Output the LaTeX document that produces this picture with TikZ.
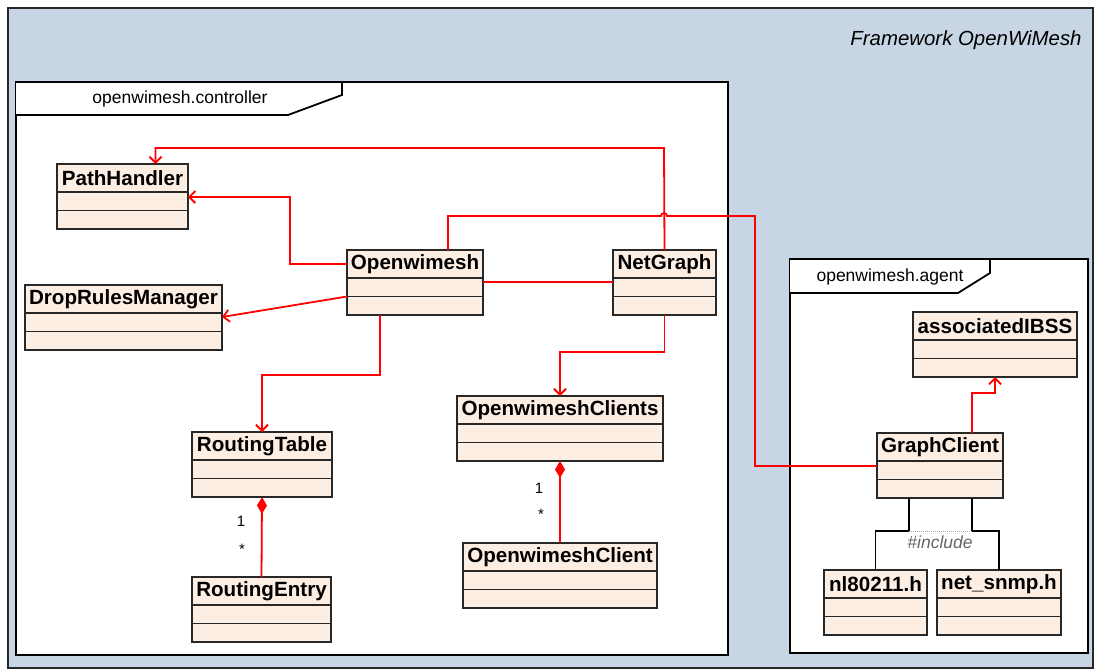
\documentclass[tikz,border=0pt]{standalone}
\usepackage{fontspec}
\setmainfont{Liberation Sans}
\usetikzlibrary{positioning,arrows.meta}
\definecolor{bgblue}{RGB}{200,213,229}
\definecolor{classfill}{RGB}{253,238,227}
\definecolor{edge}{RGB}{40,40,40}

\begin{document}
\begin{tikzpicture}[x=1pt,y=-1pt,
  pkg/.style={draw=black,line width=1.8,fill=white},
  pkglabel/.style={font=\fontsize{17.5}{21}\selectfont},
  classhead/.style={draw=edge,fill=classfill,line width=1.4,outer sep=0,inner sep=0,
    anchor=north west,minimum height=28,font=\bfseries\fontsize{20.6}{24}\selectfont},
  classbody/.style={draw=edge,fill=classfill,line width=1.4,outer sep=0,inner sep=0,
    minimum height=37,below=0pt of #1,
    path picture={\draw[edge,line width=1.4] (path picture bounding box.west) -- (path picture bounding box.east);}},
  assoc/.style={draw=red,line width=1.8},
  navig/.style={assoc,-{Straight Barb[length=6pt,width=12pt]}},
  compo/.style={assoc,{Diamond[length=17pt,width=10pt]}-},
  mult/.style={font=\fontsize{15}{18}\selectfont},
  incl/.style={draw=black,line width=1.8}]
\useasboundingbox (0,0) rectangle (1095,670);
%\draw[help lines] (0,0) grid (1095,670);
\draw [line width=1.5,draw=edge,fill=bgblue] (8,8) rectangle (1093,668);
\node (fw) at (966,40) [font=\itshape\fontsize{20.4}{24}\selectfont] {Framework OpenWiMesh};

\draw [pkg] (16,82) rectangle (728,655);
\draw [pkg] (16,82) -- (342,82) -- (342,95) -- (288,115) -- (16,115);
\node (ctrl) at (180,99) [pkglabel] {openwimesh.controller};

\draw [pkg] (790,259) rectangle (1088,653);
\draw [pkg] (790,259) -- (990,259) -- (990,273) -- (958,293) -- (790,293);
\node (agent) at (890,277) [pkglabel] {openwimesh.agent};

\node (ph) at (57,164) [classhead,minimum width=131] {PathHandler};
\node (ph-b) [classbody=ph,minimum width=131] {};
\node (drm) at (25,285) [classhead,minimum width=197] {DropRulesManager};
\node (drm-b) [classbody=drm,minimum width=197] {};
\node (owm) at (347,250) [classhead,minimum width=136] {Openwimesh};
\node (owm-b) [classbody=owm,minimum width=136] {};
\node (ng) at (613,250) [classhead,minimum width=103] {NetGraph};
\node (ng-b) [classbody=ng,minimum width=103] {};
\node (rt) at (192,432) [classhead,minimum width=140] {RoutingTable};
\node (rt-b) [classbody=rt,minimum width=140] {};
\node (re) at (192,577) [classhead,minimum width=139] {RoutingEntry};
\node (re-b) [classbody=re,minimum width=139] {};
\node (owcs) at (457,396) [classhead,minimum width=206] {OpenwimeshClients};
\node (owcs-b) [classbody=owcs,minimum width=206] {};
\node (owc) at (463,543) [classhead,minimum width=194] {OpenwimeshClient};
\node (owc-b) [classbody=owc,minimum width=194] {};
\node (ibss) at (913,312) [classhead,minimum width=164] {associatedIBSS};
\node (ibss-b) [classbody=ibss,minimum width=164] {};
\node (gc) at (877,433) [classhead,minimum width=126] {GraphClient};
\node (gc-b) [classbody=gc,minimum width=126] {};
\node (nl) at (824,570) [classhead,minimum width=103] {nl80211.h};
\node (nl-b) [classbody=nl,minimum width=103] {};
\node (snmp) at (937,570) [classhead,minimum width=124] {net\_snmp.h};
\node (snmp-b) [classbody=snmp,minimum width=124] {};

\draw [navig] (ng.north) -- (664,148) -| ([xshift=33]ph.north);
\draw [navig] (owm.west) -| (290,197) -- ([yshift=-5]ph.south east);
\draw [navig] (owm-b.west) -- ([yshift=-4]drm.south east);
\draw [assoc] ([yshift=-4]owm.south east) -- ([yshift=-4]ng.south west);
\draw [assoc] ([xshift=33]owm.north) |- (661,216) arc [start angle=180,end angle=0,radius=3pt]
  -- (755,216) |- ([yshift=-5]gc.south west);
\draw [navig] ([xshift=-35]owm-b.south) -- ++(0,60) -| (rt.north);
\draw [navig] (ng-b.south) -- ++(0,37) -| (owcs.north);
\draw [navig] ([xshift=32]gc.north) -- ++(0,-40) -| (ibss-b.south);

\draw [compo] (rt-b.south) -- (re.north);
\node (rt-m1) at (241,521) [mult] {1};
\node (re-m) at (242,549) [mult] {*};
\draw [compo] (owcs-b.south) -- (owc.north);
\node (owcs-m1) at (539,488) [mult] {1};
\node (owc-m) at (541,514) [mult] {*};

\coordinate (incl-l) at (909,531);
\coordinate (incl-r) at (972,531);
\draw [incl] ([xshift=-31]gc-b.south) -- (incl-l) -| (nl.north);
\draw [incl] ([xshift=32]gc-b.south) -- (incl-r) -| (snmp.north);
\draw [gray!70,densely dotted,line width=1] (incl-l) -- (incl-r);
\node (incl) at (940,542) [font=\itshape\fontsize{17.5}{21}\selectfont,text=black!60] {\#include};
\end{tikzpicture}
\end{document}
